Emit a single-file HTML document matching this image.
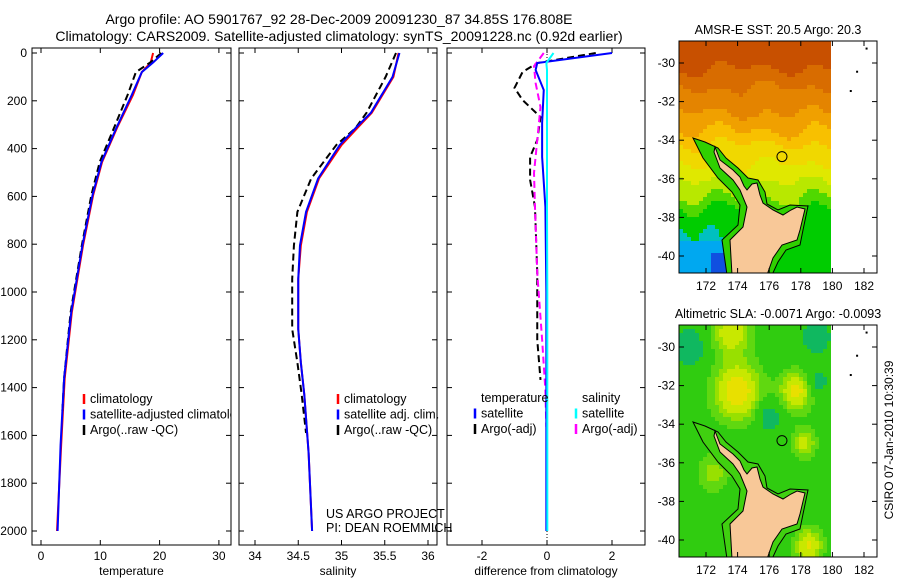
<!DOCTYPE html>
<html><head><meta charset="utf-8"><style>
body{margin:0;background:#fff;font-family:"Liberation Sans",sans-serif;}
svg{display:block}
text{font-family:"Liberation Sans",sans-serif;font-size:12px;fill:#000}
.ttl{font-size:14px}
</style></head><body>
<svg id="fig" width="900" height="580" viewBox="0 0 900 580">
<defs>
<clipPath id="cp1"><rect x="32" y="48" width="199" height="497"/></clipPath>
</defs>
<text class="ttl" x="339" y="24" text-anchor="middle">Argo profile: AO 5901767_92 28-Dec-2009 20091230_87 34.85S 176.808E</text>
<text class="ttl" x="339" y="41" text-anchor="middle">Climatology: CARS2009. Satellite-adjusted climatology: synTS_20091228.nc (0.92d earlier)</text>
<g id="g1"></g>
<g id="g2"></g>
<g id="g3"></g>
<g id="m1"></g>
<g id="m2"></g>
<text transform="translate(893,440) rotate(-90)" text-anchor="middle">CSIRO 07-Jan-2010 10:30:39</text>
</svg>
<script>
// ---- data ----
const depthTicks=[0,200,400,600,800,1000,1200,1400,1600,1800,2000];
const tempTicks=[0,10,20,30];
const salTicks=[34,34.5,35,35.5,36];
const diffTicks=[-2,0,2];
const tDepth=[0,40,80,176,314,456,594,803,1084,1360,1640,2000];
const tempClim=[18.9,18.5,17.0,15.5,12.8,10.3,8.8,7.1,5.2,4.0,3.4,2.7];
const tempSat=[20.6,18.9,17.0,15.3,12.7,10.2,8.7,7.0,5.1,3.9,3.3,2.8];
const tArgoDepth=[0,40,80,176,314,456,594,803,1084,1360,1500];
const tempArgo=[20.3,18.4,16.0,14.6,12.3,9.9,8.5,6.9,5.0,3.9,3.6];
const sDepth=[0,100,250,315,385,525,665,805,945,1155,1295,1430,1675,2000];
const salClim=[35.66,35.6,35.35,35.18,35.0,34.74,34.6,34.53,34.5,34.5,34.53,34.57,34.62,34.66];
const salSat=[35.67,35.59,35.34,35.16,34.98,34.73,34.59,34.52,34.5,34.5,34.53,34.57,34.62,34.66];
const sArgoDepth=[0,100,250,315,385,525,665,805,945,1155,1295,1430,1590];
const salArgo=[35.63,35.51,35.29,35.16,34.94,34.65,34.49,34.45,34.43,34.43,34.49,34.54,34.59];
const dSatDepth=[0,42,71,155,293,435,644,1000,1500,2000];
const dTempSat=[2.0,-0.3,-0.35,-0.1,-0.15,-0.15,-0.05,-0.02,-0.02,-0.02];
const dSalSat=[0.2,-0.02,0.0,0.0,0.0,0.0,0.0,0.01,0.01,0.01];
const dArgoDepth=[0,42,79,146,197,268,364,435,531,644,920,1200,1368];
const dTempArgo=[1.5,-0.3,-0.75,-1.0,-0.75,-0.2,-0.3,-0.52,-0.52,-0.37,-0.3,-0.3,-0.2];
const dSalArgoDepth=[0,55,126,226,364,502,644,920,1200,1410,1565];
const dSalArgo=[-0.1,-0.4,-0.35,-0.2,-0.3,-0.4,-0.37,-0.3,-0.15,-0.05,-0.02];

const NS='http://www.w3.org/2000/svg';
function el(p,t,a){const e=document.createElementNS(NS,t);for(const k in a)e.setAttribute(k,a[k]);p.appendChild(e);return e;}
const y=d=>53+d*0.239;
const yTop=48,yBot=545;
function panel(g,x0,x1,xs,ticks,label,showY){
  const r=el(g,'rect',{x:x0,y:yTop,width:x1-x0,height:yBot-yTop,fill:'none',stroke:'#000'});
  
  ticks.forEach(t=>{const X=xs(t);
    el(g,'line',{x1:X,x2:X,y1:yBot,y2:yBot-5,stroke:'#000'});el(g,'line',{x1:X,x2:X,y1:yTop,y2:yTop+5,stroke:'#000'});
    const tx=el(g,'text',{x:X,y:560,'text-anchor':'middle'});tx.textContent=t;
    });
  depthTicks.forEach(d=>{const Y=y(d);
    el(g,'line',{x1:x0,x2:x0+5,y1:Y,y2:Y,stroke:'#000'});el(g,'line',{x1:x1,x2:x1-5,y1:Y,y2:Y,stroke:'#000'});
    if(showY){const tx=el(g,'text',{x:x0-5,y:Y+4,'text-anchor':'end'});tx.textContent=d;
      }});
  const l=el(g,'text',{x:(x0+x1)/2,y:575,'text-anchor':'middle'});l.textContent=label;
  
}
function line(g,xs,vals,depths,col,dash,name){
  const p=el(g,'polyline',{points:vals.map((v,i)=>xs(v)+','+y(depths[i])).join(' '),fill:'none',stroke:col,'stroke-width':2,'stroke-dasharray':dash||'none'});
  
}
function legend(g,x,y0,items,clip){
  const lg=el(g,'g',{});if(clip)lg.setAttribute('clip-path',clip);
  items.forEach((it,i)=>{const Y=y0+i*15.5;
    if(it[0])el(lg,'line',{x1:x,x2:x,y1:Y-9,y2:Y+1,stroke:it[0],'stroke-width':2.5});
    const t=el(lg,'text',{x:x+6,y:Y,style:'font-size:12.5px'});t.textContent=it[1];
    });
}
const g1=document.getElementById('g1'),g2=document.getElementById('g2'),g3=document.getElementById('g3');
const xT=v=>41+v*5.93, xS=v=>255+(v-34)*86.5, xD=v=>547+v*32.5;
panel(g1,32,231,xT,tempTicks,'temperature',true);
line(g1,xT,tempClim,tDepth,'#f00','','temp-climatology-line');
line(g1,xT,tempArgo,tArgoDepth,'#000','7,4','temp-argo-line');
line(g1,xT,tempSat,tDepth,'#00f','','temp-satellite-line');
legend(g1,84,403,[['#f00','climatology'],['#00f','satellite-adjusted climatology'],['#000','Argo(..raw -QC)']],'url(#cp1)');
panel(g2,239,437,xS,salTicks,'salinity',false);
line(g2,xS,salClim,sDepth,'#f00','','sal-climatology-line');
line(g2,xS,salArgo,sArgoDepth,'#000','7,4','sal-argo-line');
line(g2,xS,salSat,sDepth,'#00f','','sal-satellite-line');
legend(g2,338,403,[['#f00','climatology'],['#00f','satellite adj. clim.'],['#000','Argo(..raw -QC)']]);
const c1=el(g2,'text',{x:326,y:518,style:'font-size:12.5px'});c1.textContent='US ARGO PROJECT';
const c2=el(g2,'text',{x:326,y:532,style:'font-size:12.5px'});c2.textContent='PI: DEAN ROEMMICH';
panel(g3,447,645,xD,diffTicks,'difference from climatology',false);
el(g3,'line',{x1:xD(0),x2:xD(0),y1:yTop,y2:yBot,stroke:'#000','stroke-dasharray':'1,2'});
line(g3,xD,dTempArgo,dArgoDepth,'#000','7,4','diff-temp-argo-line');
line(g3,xD,dSalArgo,dSalArgoDepth,'#f0f','7,4','diff-sal-argo-line');
line(g3,xD,dTempSat,dSatDepth,'#00f','','diff-temp-satellite-line');
line(g3,xD,dSalSat,dSatDepth,'#0ff','','diff-sal-satellite-line');
legend(g3,475,402,[[null,'temperature'],['#00f','satellite'],['#000','Argo(-adj)']]);
legend(g3,576,402,[[null,'salinity'],['#0ff','satellite'],['#f0f','Argo(-adj)']]);

// ---- maps ----
const landPx=[[715,147],[720,160],[733,170],[740,177],[744,186],[747,190],[752,184],[757,183],[760,195],[763,203],[773,210],[783,215],[791,210],[797,207],[805,209],[800,230],[797,240],[782,245],[773,258],[767,275],[732,275],[730,240],[743,227],[747,207],[740,190],[733,180],[720,168],[714,152]];
const shelfPx=[[693,138],[705,142],[718,148],[726,158],[738,168],[748,178],[758,180],[765,192],[767,204],[778,210],[790,205],[808,206],[803,230],[800,245],[786,250],[778,262],[772,275],[727,275],[722,240],[738,225],[740,205],[732,192],[718,178],[703,158]];
function sstCol(lon,lat){
  let t=lat+0.25*Math.sin(lon*2.1)+0.2*Math.sin(lon*0.9+lat*1.7);
  if(lon<175&&lat<-38.8+0.4*Math.sin(lon*3)){return lat<-39.8&&lon>172.3?'#1050e0':(lat<-39.3?'#00a8f0':'#00c0c0');}
  if(t>-30.3)return '#c85000';if(t>-31.3)return '#d86c00';if(t>-32.6)return '#e48400';if(t>-33.5)return '#f0a000';
  if(t>-34.2)return '#f8c000';if(t>-35.3)return '#f0d800';if(t>-36.2)return '#e0e800';if(t>-37)return '#b8e800';if(t>-37.5)return '#50d800';return '#00cc00';
}
function slaCol(lon,lat){
  const gs=(a,b,s)=>Math.exp(-((lon-a)**2+(lat-b)**2)/s);
  const b=gs(174,-32.3,2.2)*1.1+gs(173.6,-29.2,1.5)*0.8+gs(177.7,-32.3,1.0)+gs(178.2,-35,0.6)*0.7+gs(178.5,-40.3,0.8)*0.9+gs(172.5,-36.5,1)*0.5
    -gs(171,-30,0.8)*0.7-gs(176,-33.6,0.6)*0.6-gs(179,-29.5,0.8)*0.6-gs(179,-31.8,0.5)*0.5;
  if(b>0.85)return '#e8e000';if(b>0.6)return '#c8e800';if(b>0.4)return '#98e000';if(b>0.18)return '#60d810';if(b>-0.25)return '#30cc10';return '#10b860';
}
function map(id,y0,title,colf){
  const g=document.getElementById(id);
  const dy=y0-41;
  const X=lon=>706+(lon-172)*15.8, Y=lat=>y0+22+(-30-lat)*19.3;
  const cell=g.appendChild(document.createElementNS(NS,'g'));
  
  for(let px=679;px<831;px+=4)for(let py=y0;py<y0+232;py+=4){
    const lon=172+(px+2-706)/15.8,lat=-30-(py+2-y0-22)/19.3;
    el(cell,'rect',{x:px,y:py,width:4,height:4,fill:colf(lon,lat)});}
  const cl=el(g,'clipPath',{id:'mc'+id});el(cl,'rect',{x:679,y:y0,width:198,height:232});
  const lg=el(g,'g',{'clip-path':'url(#mc'+id+')'});
  el(lg,'polygon',{points:shelfPx.map(p=>p[0]+','+(p[1]+dy)).join(' '),fill:colf===sstCol?'#30d000':'#40d010',stroke:'#000','stroke-width':1});
  const lp=el(lg,'polygon',{points:landPx.map(p=>p[0]+','+(p[1]+dy)).join(' '),fill:'#f8c898',stroke:'#000','stroke-width':1});
  
  el(g,'rect',{x:831,y:y0,width:46,height:232,fill:'#fff'});
  const mk=el(g,'circle',{cx:X(176.808),cy:Y(-34.85),r:5,fill:'none',stroke:'#000'});
  
  [[182.1,-29.2],[181.5,-30.4],[181.1,-31.4]].forEach(p=>el(g,'rect',{x:X(p[0]),y:Y(p[1]),width:2,height:2,fill:'#000'}));
  el(g,'rect',{x:679,y:y0,width:198,height:232,fill:'none',stroke:'#000'});
  [172,174,176,178,180,182].forEach(l=>{el(g,'line',{x1:X(l),x2:X(l),y1:y0+232,y2:y0+227,stroke:'#000'});el(g,'line',{x1:X(l),x2:X(l),y1:y0,y2:y0+5,stroke:'#000'});
    const t=el(g,'text',{x:X(l),y:y0+249,'text-anchor':'middle'});t.textContent=l;
    });
  [-30,-32,-34,-36,-38,-40].forEach(l=>{el(g,'line',{x1:679,x2:684,y1:Y(l),y2:Y(l),stroke:'#000'});el(g,'line',{x1:877,x2:872,y1:Y(l),y2:Y(l),stroke:'#000'});
    const t=el(g,'text',{x:675,y:Y(l)+4,'text-anchor':'end'});t.textContent=l;
    });
  const tt=el(g,'text',{x:778,y:y0-7,'text-anchor':'middle',style:'font-size:12.5px'});tt.textContent=title;
  
}
map('m1',41,'AMSR-E SST: 20.5 Argo: 20.3',sstCol);
map('m2',325,'Altimetric SLA: -0.0071 Argo: -0.0093',slaCol);
</script>
</body></html>
